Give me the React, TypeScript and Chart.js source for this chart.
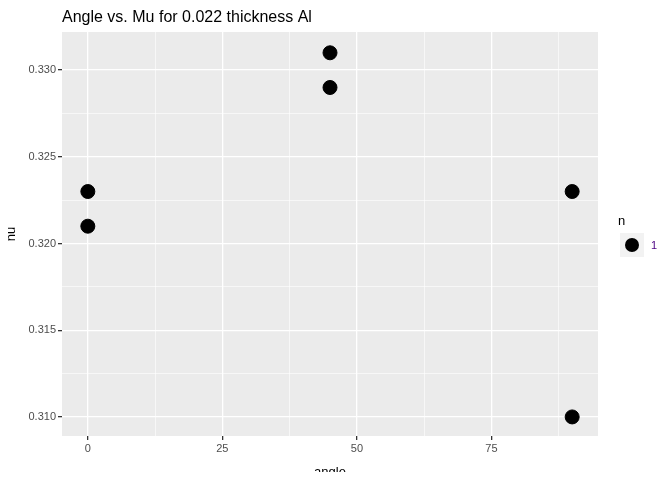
import { useEffect, useRef } from "react"
import { Chart, registerables } from "chart.js"

Chart.register(...registerables)

const angle = [0, 0, 45, 45, 90, 90]
const nu = [0.323, 0.321, 0.331, 0.329, 0.323, 0.31]
const legendLabels = ["1"]
const title = "Angle vs. Mu for 0.022 thickness Al"

const FONT = "'Liberation Sans', Arial, sans-serif"

const isMajorX = (v: number) => Math.abs(v % 25) < 1e-6
const isMajorY = (v: number) => Math.abs(Math.round(v * 1000) % 5) < 1e-6 && Math.abs(v * 1000 - Math.round(v * 1000)) < 1e-6

const decor = {
  id: "decor",
  beforeDraw(chart: Chart) {
    const { ctx, chartArea: a } = chart
    ctx.save()
    ctx.fillStyle = "#EBEBEB"
    ctx.fillRect(a.left, a.top, a.right - a.left, a.bottom - a.top)
    ctx.restore()
  },
  afterDraw(chart: Chart) {
    const { ctx, chartArea: a } = chart
    ctx.save()
    ctx.fillStyle = "#000"
    ctx.font = `16px ${FONT}`
    ctx.textBaseline = "alphabetic"
    ctx.fillText(title, a.left, 22)
    // legend
    ctx.font = `13px ${FONT}`
    ctx.fillText("n", 618, 225)
    legendLabels.forEach((lab, i) => {
      const y = 233 + i * 24
      ctx.fillStyle = "#F2F2F2"
      ctx.fillRect(620, y, 24, 24)
      ctx.fillStyle = "#000"
      ctx.beginPath()
      ctx.arc(632, y + 12, 7, 0, Math.PI * 2)
      ctx.fill()
      ctx.fillStyle = "#4B0082"
      ctx.font = `11px ${FONT}`
      ctx.fillText(lab, 651, y + 16)
    })
    ctx.restore()
  },
}

export default function App() {
  const ref = useRef<HTMLCanvasElement>(null)
  const inst = useRef<Chart | null>(null)

  useEffect(() => {
    if (!ref.current) return
    inst.current?.destroy()
    inst.current = new Chart(ref.current, {
      type: "scatter",
      data: {
        datasets: [
          {
            data: angle.map((x, i) => ({ x, y: nu[i] })),
            backgroundColor: "#000",
            borderColor: "#000",
            pointRadius: 7,
          },
        ],
      },
      options: {
        animation: false,
        responsive: false,
        layout: { padding: { top: 32, right: 74, left: 0, bottom: 0 } },
        plugins: { legend: { display: false }, tooltip: { enabled: false } },
        scales: {
          x: {
            type: "linear",
            min: -4.8,
            max: 94.8,
            afterFit: (s: any) => { s.height = 44 },
            afterBuildTicks: (s: any) => {
              s.ticks = [0, 12.5, 25, 37.5, 50, 62.5, 75, 87.5].map((v) => ({ value: v }))
            },
            ticks: {
              autoSkip: false,
              maxRotation: 0,
              color: "#4D4D4D",
              font: { family: FONT, size: 11 },
              padding: 2,
              callback: (v: any) => (isMajorX(Number(v)) ? String(v) : ""),
            },
            grid: {
              color: "#FFFFFF",
              lineWidth: (c: any) => (isMajorX(c.tick.value) ? 1.3 : 0.6),
              tickColor: (c: any) => (isMajorX(c.tick.value) ? "#333" : "transparent"),
              tickLength: 4,
            },
            border: { display: false },
            title: { display: true, text: "angle", color: "#000", font: { family: FONT, size: 13 }, padding: { top: -5, bottom: 0 } },
          },
          y: {
            type: "linear",
            min: 0.3089,
            max: 0.3322,
            afterFit: (s: any) => { s.width = 62 },
            afterBuildTicks: (s: any) => {
              s.ticks = [0.31, 0.3125, 0.315, 0.3175, 0.32, 0.3225, 0.325, 0.3275, 0.33].map((v) => ({ value: v }))
            },
            ticks: {
              autoSkip: false,
              color: "#4D4D4D",
              font: { family: FONT, size: 11 },
              padding: 2,
              callback: (v: any) => (isMajorY(Number(v)) ? Number(v).toFixed(3) : ""),
            },
            grid: {
              color: "#FFFFFF",
              lineWidth: (c: any) => (isMajorY(c.tick.value) ? 1.3 : 0.6),
              tickColor: (c: any) => (isMajorY(c.tick.value) ? "#333" : "transparent"),
              tickLength: 4,
            },
            border: { display: false },
            title: { display: true, text: "nu", color: "#000", font: { family: FONT, size: 13 }, padding: { bottom: 0 } },
          },
        },
      },
      plugins: [decor],
    })
    return () => {
      inst.current?.destroy()
    }
  }, [])

  return (
    <div style={{ width: 672, height: 480, margin: -8, background: "#fff" }}>
      <canvas ref={ref} width={672} height={480} />
    </div>
  )
}
